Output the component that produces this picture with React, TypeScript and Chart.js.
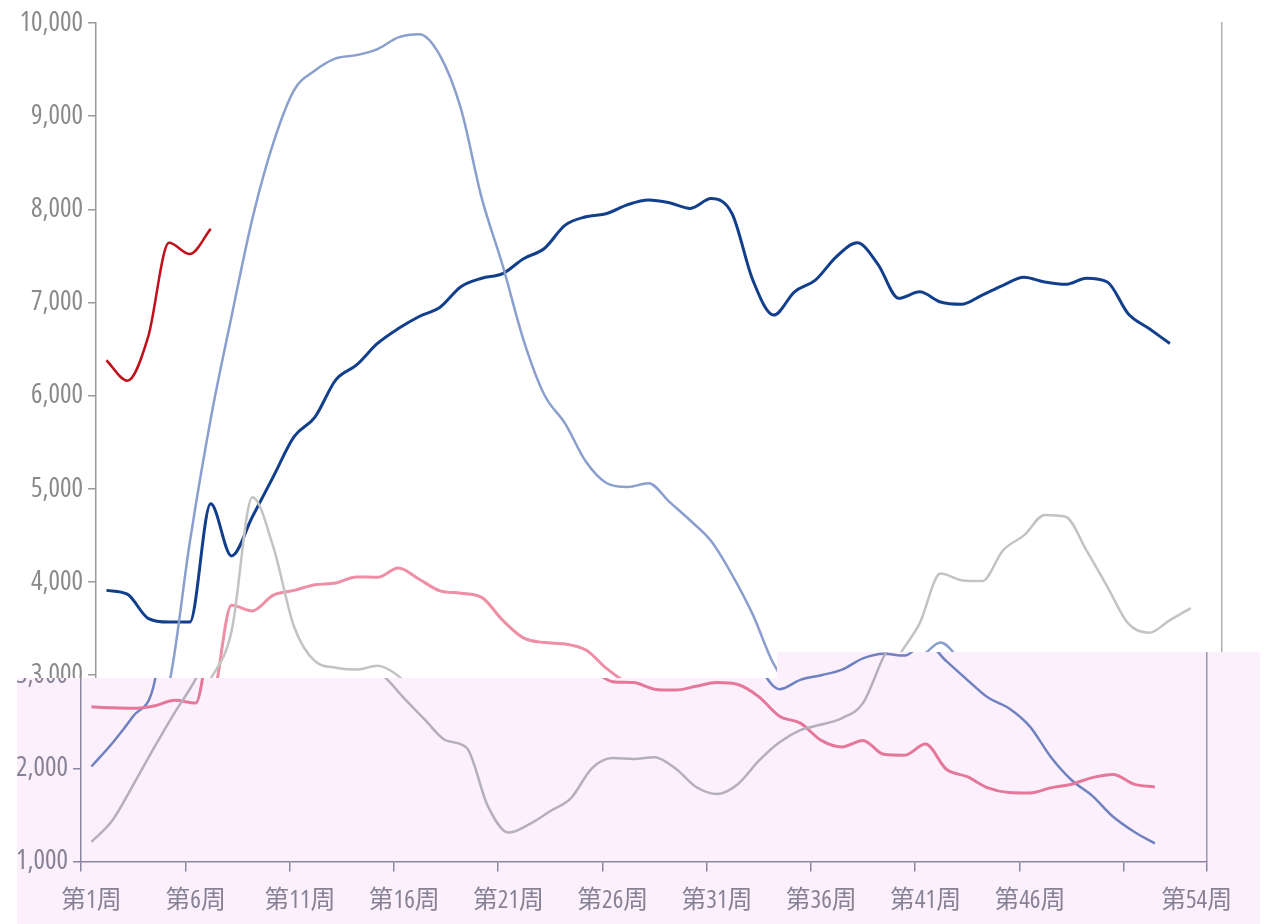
import React, { useEffect, useRef } from 'react';
import { Chart, registerables } from 'chart.js';

Chart.register(...registerables);

// ---------- data (weekly values) ----------
const redValues = [6380, 6160, 6630, 7640, 7520, 7790];
const navyValues = [
  3910, 3870, 3610, 3570, 3570, 4840, 4280, 4700, 5130, 5560,
  5770, 6170, 6330, 6560, 6720, 6850, 6950, 7170, 7260, 7310,
  7470, 7580, 7830, 7920, 7955, 8050, 8100, 8070, 8010, 8115,
  7955, 7240, 6865, 7115, 7240, 7490, 7640, 7410, 7045, 7115,
  7005, 6980, 7080, 7185, 7270, 7220, 7195, 7260, 7220, 6880,
  6720, 6560,
];
const steelValues = [
  2020, 2270, 2560, 2900, 4430, 5750, 6850, 7900, 8710, 9280,
  9490, 9620, 9655, 9720, 9845, 9880, 9650, 9080, 8120, 7400,
  6600, 6010, 5700, 5290, 5060, 5020, 5060, 4860, 4660, 4440,
  4080, 3650, 3120, 2850, 2950, 3000, 3060, 3180, 3230, 3210,
  3350, 3150, 2950, 2760, 2645, 2450, 2125, 1875, 1705, 1480,
  1320, 1195,
];
const pinkValues = [
  2660, 2650, 2645, 2670, 2730, 2700, 3750, 3690, 3860, 3910,
  3970, 3990, 4055, 4050, 4150, 4030, 3905, 3880, 3835, 3590,
  3400, 3350, 3335, 3270, 3070, 2930, 2920, 2850, 2840, 2880,
  2920, 2900, 2770, 2560, 2485, 2300, 2230, 2300, 2150, 2140,
  2260, 1990, 1910, 1790, 1740, 1735, 1790, 1830, 1900, 1935,
  1830, 1800,
];
const grayValues = [
  1210, 1440, 1820, 2220, 2600, 2960, 3470, 4910, 4380, 3520,
  3150, 3080, 3060, 3100, 2990, 2750, 2520, 2300, 2220, 1600,
  1310, 1400, 1540, 1680, 2000, 2110, 2100, 2120, 2000, 1800,
  1725, 1830, 2080, 2280, 2410, 2470, 2540, 2700, 3200, 3556,
  4090, 4020, 4010, 4340, 4500, 4720, 4700, 4340, 3950, 3555,
  3455, 3590, 3720,
];

const yTickValues = [1000, 2000, 3000, 4000, 5000, 6000, 7000, 8000, 9000, 10000];
const xLabelWeeks = [1, 6, 11, 16, 21, 26, 31, 36, 41, 46, 54];
const xTickMarkWeeks = [1, 6, 11, 16, 21, 26, 31, 36, 41, 46, 51, 55];
const firstWeek = 1;
const lastWeek = 54;

// ---------- styles ----------
const W = 1268;
const H = 924;
const FAMILY = "'Open Sans', 'Noto Sans CJK SC', sans-serif";

type Palette = {
  red: string; navy: string; steel: string; pink: string; gray: string;
  axis: string; frame: string; text: string;
};

const topPalette: Palette = {
  red: '#c0101c', navy: '#123f8c', steel: '#8a9fcd', pink: '#ee8fa5', gray: '#c3c3c3',
  axis: '#9a9a9a', frame: '#b0b0b0', text: '#8a8a8a',
};
const stripPalette: Palette = {
  red: '#c0101c', navy: '#123f8c', steel: '#7081c0', pink: '#e5789a', gray: '#b5afbd',
  axis: '#8a86a0', frame: '#9a96ae', text: '#868296',
};

function buildConfig(p: Palette): any {
  const toPoints = (arr: number[]) => arr.map((v, i) => ({ x: firstWeek + i, y: v }));
  const ds = (label: string, data: number[], color: string, width: number) => ({
    label,
    data: toPoints(data),
    borderColor: color,
    backgroundColor: color,
    borderWidth: width,
    pointRadius: 0,
    fill: false,
    cubicInterpolationMode: 'monotone',
    xAxisID: 'x',
    yAxisID: 'y',
  });
  return {
    type: 'line',
    data: {
      datasets: [
        ds('gray', grayValues, p.gray, 2.5),
        ds('pink', pinkValues, p.pink, 3),
        ds('steel', steelValues, p.steel, 2.5),
        ds('navy', navyValues, p.navy, 3),
        ds('red', redValues, p.red, 2.5),
      ],
    },
    options: {
      responsive: false,
      animation: false,
      layout: { padding: { left: 0, right: 46, top: 23, bottom: 0 } },
      plugins: { legend: { display: false }, tooltip: { enabled: false } },
      scales: {
        y: {
          type: 'linear',
          position: 'left',
          min: yTickValues[0],
          max: yTickValues[yTickValues.length - 1],
          afterBuildTicks: (s: any) => { s.ticks = yTickValues.map((v) => ({ value: v })); },
          afterFit: (s: any) => { s.width = 96; },
          grid: { drawOnChartArea: false, tickLength: 8, color: p.axis, lineWidth: 1.5 },
          border: { color: p.axis, width: 1.5 },
          ticks: {
            padding: 5,
            color: p.text,
            font: { family: FAMILY, size: 27, weight: 'normal condensed' },
            callback: (v: any) => Number(v).toLocaleString('en-US'),
          },
        },
        yR: {
          type: 'linear',
          position: 'right',
          min: yTickValues[0],
          max: yTickValues[yTickValues.length - 1],
          grid: { drawOnChartArea: false, drawTicks: false, color: p.frame },
          border: { color: p.frame, width: 1.5 },
          ticks: { display: false },
          afterFit: (s: any) => { s.width = 0; },
        },
        x: {
          type: 'linear',
          position: 'bottom',
          weight: 0,
          min: firstWeek - 0.5,
          max: lastWeek + 0.5,
          afterBuildTicks: (s: any) => { s.ticks = xTickMarkWeeks.map((w) => ({ value: w - 0.5 })); },
          afterFit: (s: any) => { s.height = 10; },
          grid: { drawOnChartArea: false, tickLength: 10, color: p.axis, lineWidth: 1.5 },
          border: { color: p.axis, width: 1.5 },
          ticks: { display: false },
        },
        xLabels: {
          type: 'linear',
          position: 'bottom',
          weight: 1,
          min: firstWeek - 0.5,
          max: lastWeek + 0.5,
          afterBuildTicks: (s: any) => { s.ticks = xLabelWeeks.map((w) => ({ value: w })); },
          afterFit: (s: any) => { s.height = 52.5; },
          grid: { display: false },
          border: { display: false },
          ticks: {
            autoSkip: false,
            maxRotation: 0,
            padding: 6,
            color: p.text,
            font: { family: FAMILY, size: 25, weight: 'normal condensed' },
            callback: (v: any) => `第${v}周`,
          },
        },
      },
    },
  };
}

function ChartCanvas({ palette, style }: { palette: Palette; style: React.CSSProperties }) {
  const ref = useRef<HTMLCanvasElement | null>(null);
  useEffect(() => {
    if (!ref.current) return;
    const chart = new Chart(ref.current, buildConfig(palette));
    return () => chart.destroy();
  }, [palette]);
  return <canvas ref={ref} width={W} height={H} style={{ position: 'absolute', width: W, height: H, ...style }} />;
}

export default function App() {
  useEffect(() => {
    document.body.style.margin = '0';
    document.body.style.overflow = 'hidden';
  }, []);
  return (
    <div style={{ position: 'relative', width: W, height: H, background: '#ffffff', overflow: 'hidden' }}>
      <ChartCanvas palette={topPalette} style={{ left: 0, top: 0 }} />
      <div
        style={{
          position: 'absolute',
          left: 0,
          top: 0,
          width: W,
          height: H,
          overflow: 'hidden',
          background: '#fcf0fc',
          clipPath: 'polygon(17px 678px, 777px 678px, 777px 652px, 1260px 652px, 1260px 924px, 17px 924px)',
        }}
      >
        <ChartCanvas palette={stripPalette} style={{ left: -15, top: 0 }} />
      </div>
    </div>
  );
}
